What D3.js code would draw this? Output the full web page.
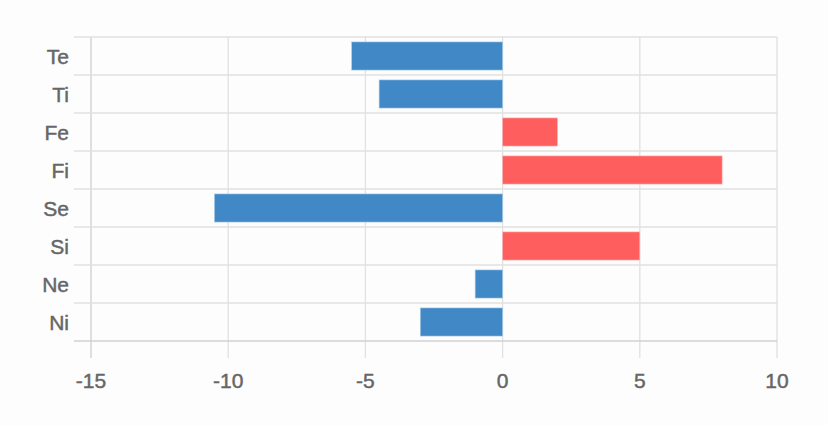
<!DOCTYPE html>
<html><head><meta charset="utf-8">
<script src="https://cdn.jsdelivr.net/npm/d3@7"></script>
<style>body{margin:0;background:#fdfdfd}svg{display:block}</style>
</head><body><svg id="c" width="828" height="425"></svg>
<script>
const categories = ["Te","Ti","Fe","Fi","Se","Si","Ne","Ni"];
const values = [-5.5,-4.5,2,8,-10.5,5,-1,-3];
const xTicks = [-15,-10,-5,0,5,10];

const svg = d3.select("#c");
const m = {l:91, r:51, t:37, b:84};
const W = 828, H = 425;
const x = d3.scaleLinear().domain([-15,10]).range([m.l, W - m.r]);
const y = d3.scaleBand().domain(categories).range([m.t, H - m.b]).paddingInner(0.26).paddingOuter(0.13);
const yb = d3.scaleBand().domain(categories).range([m.t, H - m.b]);

const font = "'Helvetica Neue', 'Liberation Sans', Arial, sans-serif";
// vertical grid
svg.append("g").selectAll("line").data(xTicks).join("line")
  .attr("x1", d => x(d)).attr("x2", d => x(d))
  .attr("y1", m.t).attr("y2", H - m.b + 17)
  .attr("stroke", d => d === -15 ? "#d0d0d0" : "#e1e1e1").attr("stroke-width", 1.3);
// horizontal grid
const hl = categories.map(c => yb(c)).concat([H - m.b]);
svg.append("g").selectAll("line").data(hl).join("line")
  .attr("x1", m.l - 17).attr("x2", x(10))
  .attr("y1", d => d).attr("y2", d => d)
  .attr("stroke", (d,i) => i === hl.length-1 ? "#d0d0d0" : "#e1e1e1").attr("stroke-width", 1.3);

// bars
svg.append("g").selectAll("rect").data(categories).join("rect")
  .attr("x", (c,i) => x(Math.min(0, values[i])))
  .attr("width", (c,i) => Math.abs(x(values[i]) - x(0)))
  .attr("y", c => y(c)).attr("height", y.bandwidth())
  .attr("fill", (c,i) => values[i] < 0 ? "#4088c6" : "#ff5e5e")
  .attr("stroke", (c,i) => values[i] < 0 ? "#a9cbe8" : "#ffb3b3").attr("stroke-width", 0.6);

// y labels
svg.append("g").selectAll("text").data(categories).join("text")
  .attr("x", m.l - 22).attr("y", c => yb(c) + yb.bandwidth()/2)
  .attr("dy", "0.36em").attr("text-anchor", "end")
  .attr("font-family", font).attr("font-size", 21).attr("fill", "#666")
  .attr("stroke", "#666").attr("stroke-width", 0.45)
  .text(c => c);
// x labels
svg.append("g").selectAll("text").data(xTicks).join("text")
  .attr("x", d => x(d)).attr("y", 388)
  .attr("text-anchor", "middle")
  .attr("font-family", font).attr("font-size", 21).attr("fill", "#666")
  .attr("stroke", "#666").attr("stroke-width", 0.45)
  .text(d => d);
</script></body></html>
